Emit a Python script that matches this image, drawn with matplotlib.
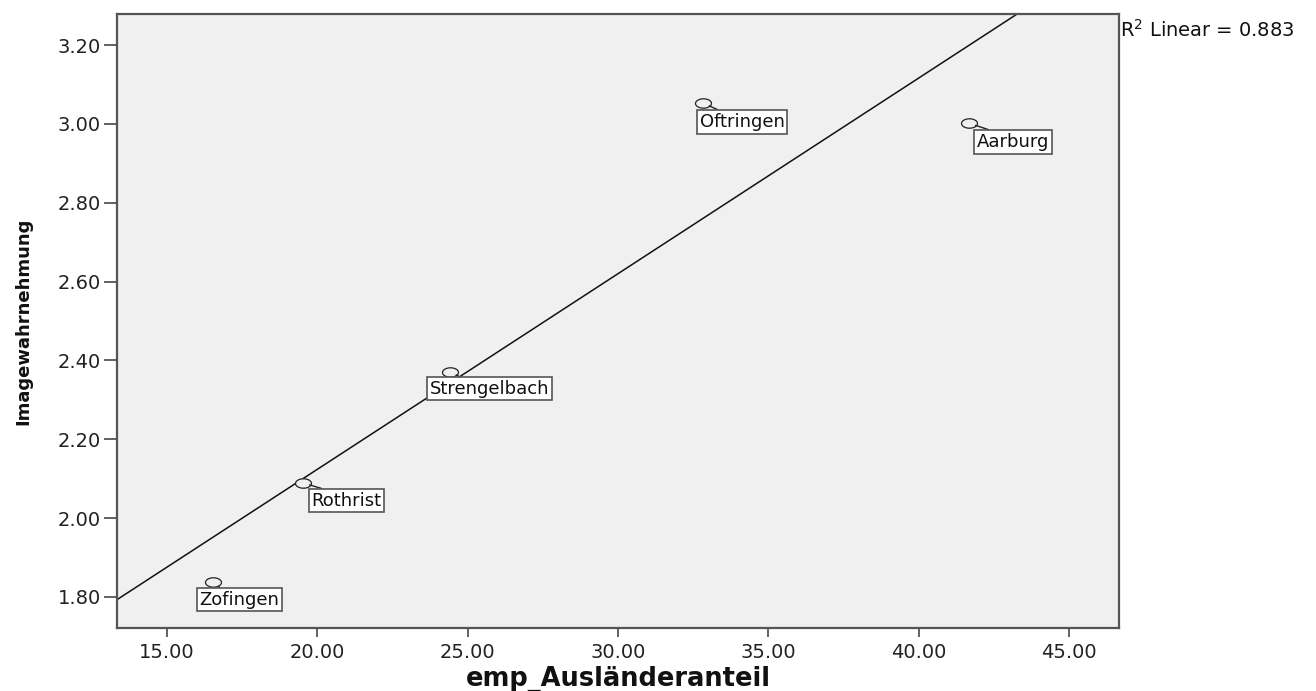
import numpy as np
import matplotlib
matplotlib.use('Agg')
import matplotlib.pyplot as plt
from matplotlib.path import Path

# data
gemeinden = ["Zofingen", "Rothrist", "Strengelbach", "Oftringen", "Aarburg"]
auslaenderanteil = [16.53, 19.52, 24.41, 32.82, 41.67]
image = [1.838, 2.089, 2.371, 3.053, 3.002]

x_ticks = [15, 20, 25, 30, 35, 40, 45]
y_ticks = [1.8, 2.0, 2.2, 2.4, 2.6, 2.8, 3.0, 3.2]
r2_text = r"R$^2$ Linear = 0.883"

# label box top-left relative to the point, in pixels (right, down)
label_offsets = {
    "Zofingen": (-16, 6),
    "Rothrist": (6, 6),
    "Strengelbach": (-23, 5),
    "Oftringen": (-6, 7),
    "Aarburg": (5, 7),
}

BG = '#f0f0f0'
EDGE = '#555555'

fig = plt.figure(figsize=(13.16, 6.91), dpi=100)
ax = fig.add_axes([0.0889, 0.0912, 0.7614, 0.8885])
ax.set_facecolor(BG)
ax.set_xlim(13.34, 46.66)
ax.set_ylim(1.721, 3.279)

for s in ax.spines.values():
    s.set_color(EDGE)
    s.set_linewidth(1.6)

# fit line over whole x range
slope, icpt = np.polyfit(auslaenderanteil, image, 1)
xs = np.array(ax.get_xlim())
ax.plot(xs, icpt + slope * xs, color='#111111', lw=1.1, zorder=2)

# squashed circle marker (picture is stretched horizontally)
t = np.linspace(0, 2 * np.pi, 60)
ell = Path(np.column_stack([0.85 * np.cos(t), 0.5 * np.sin(t)]))
ax.plot(auslaenderanteil, image, ls='none', marker=ell, ms=11.5,
        mfc=BG, mec='#222222', mew=0.9, zorder=4)

fs = 13
pad = 0.15 * fs * 100 / 72
for name, xv, yv in zip(gemeinden, auslaenderanteil, image):
    dx, dy = label_offsets[name]
    ax.annotate(name, xy=(xv, yv), xytext=(dx + pad, -(dy + pad)),
                textcoords='offset pixels', ha='left', va='top',
                fontsize=fs, family='DejaVu Sans', color='#111111',
                bbox=dict(boxstyle='square,pad=0.15', fc='white', ec=EDGE, lw=1.2),
                arrowprops=dict(arrowstyle='-', color='#222222', lw=1.0,
                                relpos=(0.3, 1.0), shrinkA=0, shrinkB=5),
                zorder=5)

ax.set_xticks(x_ticks)
ax.set_xticklabels([f"{v:.2f}" for v in x_ticks])
ax.set_yticks(y_ticks)
ax.set_yticklabels([f"{v:.2f}" for v in y_ticks])
ax.tick_params(axis='x', length=6.5, width=1.3, color=EDGE, pad=4,
               labelsize=14, labelcolor='#222222')
ax.tick_params(axis='y', length=9.5, width=1.3, color=EDGE, pad=2,
               labelsize=14, labelcolor='#222222')

ax.set_xlabel("emp_Ausländeranteil", fontsize=18.5, fontweight='bold',
              family='DejaVu Sans', color='#111111', va='baseline')
ax.xaxis.set_label_coords(0.5, -0.094)
ax.set_ylabel("Imagewahrnehmung", fontsize=13, fontweight='bold',
              family='DejaVu Sans', color='#111111')
ax.yaxis.set_label_coords(-0.084, 0.5)

fig.text(1120 / 1316, 1 - 19 / 691, r2_text, ha='left', va='top',
         fontsize=14, color='#111111')

fig.savefig('out.png', dpi=100, facecolor='white')
